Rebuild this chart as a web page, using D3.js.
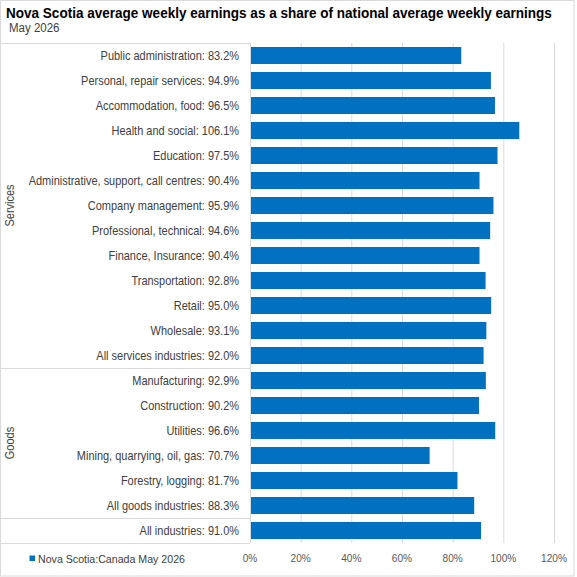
<!DOCTYPE html>
<html><head><meta charset="utf-8">
<script src="https://cdn.jsdelivr.net/npm/d3@7"></script>
<style>
html,body{margin:0;padding:0;background:#fff;}
svg{display:block;}
text{font-family:"Liberation Sans","Noto Sans",sans-serif;}
</style></head>
<body>
<svg id="chart" width="577" height="577"></svg>
<script>
const categories = [
  "Public administration","Personal, repair services","Accommodation, food","Health and social",
  "Education","Administrative, support, call centres","Company management","Professional, technical",
  "Finance, Insurance","Transportation","Retail","Wholesale","All services industries",
  "Manufacturing","Construction","Utilities","Mining, quarrying, oil, gas","Forestry, logging",
  "All goods industries","All industries"
];
const values = [83.2,94.9,96.5,106.1,97.5,90.4,95.9,94.6,90.4,92.8,95.0,93.1,92.0,
                92.9,90.2,96.6,70.7,81.7,88.3,91.0];
const groupNames = ["Services","Goods",""];
const groupSizes = [13,6,1];
const xTicks = [0,20,40,60,80,100,120];
const seriesName = "Nova Scotia:Canada May 2026";
const titleText = "Nova Scotia average weekly earnings as a share of national average weekly earnings";
const subtitleText = "May 2026";

(function(){
const svg = d3.select("#chart");
const pLeft = 250, pRight = 554, pTop = 43, pBottom = 543;
const blue = "#0070C0", grid = "#d9d9d9", textCol = "#404040";

function squeeze(sel, f){
  sel.each(function(){
    const L = this.getComputedTextLength();
    d3.select(this).attr("textLength", L*f).attr("lengthAdjust","spacingAndGlyphs");
  });
}

svg.append("rect").attr("x",0.5).attr("y",0.5).attr("width",573.5).attr("height",575.5)
  .attr("fill","none").attr("stroke","#d9d9d9");

const tg = svg.append("g");
const t = tg.append("text").attr("x",0).attr("y",0).attr("font-size",15.3).attr("font-weight","bold")
  .attr("fill","#000").text(titleText);
const tw = t.node().getComputedTextLength();
tg.attr("transform",`translate(6,18) scale(${546/tw},1)`);
squeeze(svg.append("text").attr("x",9).attr("y",32).attr("font-size",12.5).attr("fill",textCol).text(subtitleText), 0.92);

const x = d3.scaleLinear().domain([0,120]).range([pLeft,pRight]);
const y = d3.scaleBand().domain(categories).range([pTop,pBottom]).paddingInner(0.32).paddingOuter(0.16);

svg.append("g").selectAll("line").data(xTicks).join("line")
  .attr("x1",d=>x(d)+0.5).attr("x2",d=>x(d)+0.5).attr("y1",pTop).attr("y2",pBottom)
  .attr("stroke",grid).attr("stroke-width",1);

svg.append("g").selectAll("rect").data(categories).join("rect")
  .attr("x",x(0)+0.5).attr("y",d=>y(d))
  .attr("width",(d,i)=>x(values[i])-x(0)).attr("height",y.bandwidth())
  .attr("fill",blue);

squeeze(svg.append("g").selectAll("text").data(categories).join("text")
  .attr("x",239).attr("y",d=>y(d)+y.bandwidth()/2).attr("dy","0.35em")
  .attr("text-anchor","end").attr("font-size",12.2).attr("fill",textCol)
  .text((d,i)=>`${d}: ${values[i].toFixed(1)}%`), 0.9);

const step = y.step();
let acc = 0;
const bounds = [0];
groupSizes.forEach(s=>{acc+=s; bounds.push(acc);});
svg.append("g").selectAll("line").data(bounds).join("line")
  .attr("x1",0).attr("x2",pLeft).attr("y1",d=>Math.round(pTop+d*step)+0.5).attr("y2",d=>Math.round(pTop+d*step)+0.5)
  .attr("stroke",grid);
svg.append("line").attr("x1",pLeft+0.5).attr("x2",pLeft+0.5).attr("y1",pTop).attr("y2",pBottom).attr("stroke",grid);
svg.append("line").attr("x1",0.5).attr("x2",0.5).attr("y1",pTop).attr("y2",pBottom).attr("stroke",grid);

groupNames.forEach((g,i)=>{
  if(!g) return;
  const cy = pTop + (bounds[i]+bounds[i+1])/2*step;
  squeeze(svg.append("text").attr("transform",`translate(10,${cy}) rotate(-90)`)
    .attr("text-anchor","middle").attr("dy","0.35em").attr("font-size",12.2).attr("fill",textCol).text(g), 0.9);
});

squeeze(svg.append("g").selectAll("text").data(xTicks).join("text")
  .attr("x",d=>x(d)).attr("y",558).attr("dy","0.35em").attr("text-anchor","middle")
  .attr("font-size",11.5).attr("fill","#595959").text(d=>d+"%"), 0.88);

svg.append("rect").attr("x",29.5).attr("y",555.5).attr("width",5.5).attr("height",5.5).attr("fill",blue);
squeeze(svg.append("text").attr("x",38).attr("y",558.5).attr("dy","0.35em").attr("font-size",11.8).attr("fill",textCol).text(seriesName), 0.9);
})();
</script>
</body></html>
